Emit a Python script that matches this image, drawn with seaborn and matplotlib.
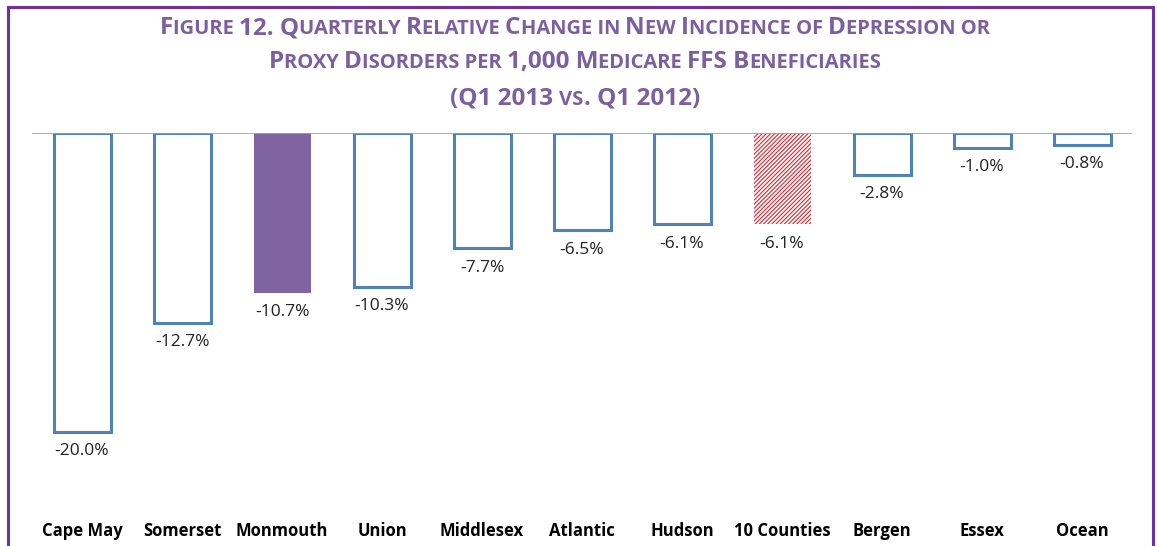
import seaborn as sns
import pandas as pd
import matplotlib.pyplot as plt
from matplotlib.offsetbox import TextArea, HPacker, AnchoredOffsetbox
from matplotlib.patches import Rectangle

sns.set_theme(style='white')
plt.rcParams['font.family'] = ['Open Sans', 'DejaVu Sans']
plt.rcParams['hatch.linewidth'] = 0.8

counties = ['Cape May', 'Somerset', 'Monmouth', 'Union', 'Middlesex', 'Atlantic',
            'Hudson', '10 Counties', 'Bergen', 'Essex', 'Ocean']
change = [-20.0, -12.7, -10.7, -10.3, -7.7, -6.5, -6.1, -6.1, -2.8, -1.0, -0.8]
labels = ['-20.0%', '-12.7%', '-10.7%', '-10.3%', '-7.7%', '-6.5%', '-6.1%', '-6.1%', '-2.8%', '-1.0%', '-0.8%']

title_lines = ['Figure 12. Quarterly Relative Change in New Incidence of Depression or',
               'Proxy Disorders per 1,000 Medicare FFS Beneficiaries',
               '(Q1 2013 vs. Q1 2012)']

blue = '#4f81bd'
purple = '#8064a2'
title_col = '#7b5fa0'

df = pd.DataFrame({'county': counties, 'change': change})

fig = plt.figure(figsize=(11.57, 5.46), dpi=100)
ax = fig.add_axes([32 / 1157, 1 - 515 / 546, 1100 / 1157, 382 / 546])

sns.barplot(data=df, x='county', y='change', ax=ax, width=0.57, color='white')

for p, name in zip(ax.patches, counties):
    if name == 'Monmouth':
        p.set_facecolor(purple)
        p.set_edgecolor(purple)
        p.set_linewidth(0)
    elif name == '10 Counties':
        p.set_facecolor('white')
        p.set_edgecolor('#e8202a')
        p.set_hatch('////////')
        p.set_linewidth(0)
    else:
        p.set_facecolor('white')
        p.set_edgecolor(blue)
        p.set_linewidth(2.2)

for i, (v, lab) in enumerate(zip(change, labels)):
    ax.annotate(lab, (i, v), xytext=(0, -14), textcoords='offset points',
                ha='center', va='center', fontsize=12.5, color='#222222')

ax.axhline(0, color='#a0a0a0', lw=1.2, zorder=5)
ax.set_ylim(-25.55, 0)
ax.set_xlim(-0.5, len(counties) - 0.5)
ax.set_xlabel('')
ax.set_ylabel('')
ax.set_yticks([])
ax.tick_params(axis='x', length=0, pad=5)
for t in ax.get_xticklabels():
    t.set_fontweight('bold')
    t.set_fontsize(12)
    t.set_color('black')
for s in ax.spines.values():
    s.set_visible(False)


# title in small caps, built from pieces
def small_caps_line(text, big=17.5, small=14.5):
    runs = []
    for c in text:
        key = runs[-1][0] if (c == ' ' and runs) else c.islower()
        if runs and runs[-1][0] == key:
            runs[-1][1] += c
        else:
            runs.append([key, c])
    kids = [TextArea(s.upper(), textprops=dict(color=title_col, fontweight='bold',
                                                fontsize=small if low else big))
            for low, s in runs]
    return HPacker(children=kids, align='baseline', pad=0, sep=0)


for line, y in zip(title_lines, [28, 62, 99]):
    box = AnchoredOffsetbox(loc='center', child=small_caps_line(line), frameon=False,
                            bbox_to_anchor=(575 / 1157, 1 - y / 546),
                            bbox_transform=fig.transFigure, pad=0, borderpad=0)
    fig.add_artist(box)

# purple frame
fig.add_artist(Rectangle((8 / 1157, -0.1), 1145 / 1157, 1.1 - 7 / 546, transform=fig.transFigure,
                         fill=False, edgecolor='#7030a0', lw=2.2))

fig.savefig('out.png', dpi=100)
